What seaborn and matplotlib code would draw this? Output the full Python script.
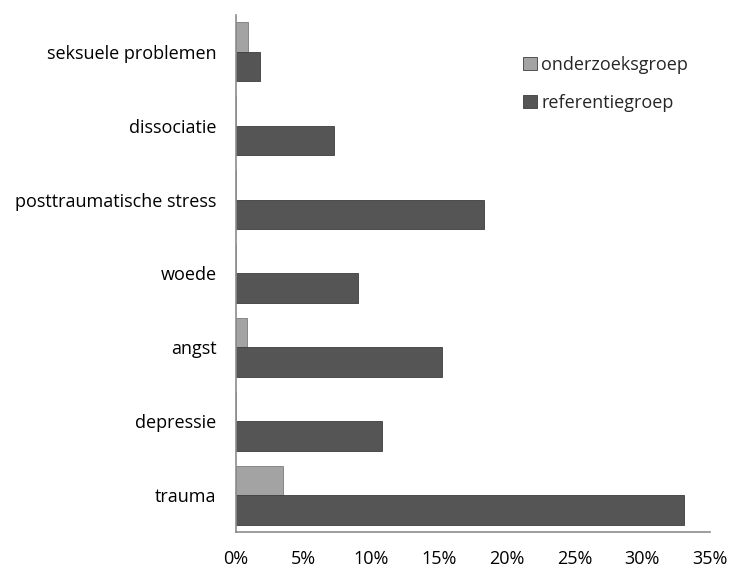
import matplotlib
matplotlib.use("Agg")
import matplotlib.pyplot as plt
import seaborn as sns
import pandas as pd
from matplotlib.ticker import FuncFormatter, MultipleLocator

categories = ["seksuele problemen", "dissociatie", "posttraumatische stress",
              "woede", "angst", "depressie", "trauma"]
onderzoeksgroep = [0.9, 0.0, 0.0, 0.0, 0.8, 0.0, 3.45]
referentiegroep = [1.8, 7.2, 18.3, 9.0, 15.2, 10.8, 33.1]
series = ["onderzoeksgroep", "referentiegroep"]
colors = ["#a3a3a3", "#555555"]

df = pd.DataFrame({
    "categorie": categories * 2,
    "groep": [series[0]] * len(categories) + [series[1]] * len(categories),
    "waarde": onderzoeksgroep + referentiegroep,
})

sns.set_style("white")
plt.rcParams["font.family"] = ["Open Sans", "DejaVu Sans"]

fig = plt.figure(figsize=(7.32, 5.69), dpi=100)
ax = fig.add_axes([0.3224, 0.065, 0.6476, 0.909])

sns.barplot(data=df, y="categorie", x="waarde", hue="groep", order=categories,
            hue_order=series, palette=colors, orient="h", width=0.8,
            edgecolor="#3d3d3d", linewidth=0.6, ax=ax, legend=True)

for patch in ax.containers[0]:
    patch.set_edgecolor("#7a7a7a")

ax.set_xlim(0, 35)
ax.xaxis.set_major_locator(MultipleLocator(5))
ax.xaxis.set_major_formatter(FuncFormatter(lambda v, p: f"{v:.0f}%"))
ax.set_xlabel("")
ax.set_ylabel("")
ax.tick_params(axis="both", length=0, labelsize=13, colors="black")
ax.tick_params(axis="x", pad=13)
ax.tick_params(axis="y", pad=14)

for s in ["top", "right"]:
    ax.spines[s].set_visible(False)
for s in ["left", "bottom"]:
    ax.spines[s].set_color("#8c8c8c")
    ax.spines[s].set_linewidth(1.2)

leg = ax.legend(loc="upper left", bbox_to_anchor=(0.572, 0.952), frameon=False,
                fontsize=13, handlelength=0.75, handleheight=0.75,
                handletextpad=0.25, labelspacing=1.1)

fig.savefig("out.png", dpi=100, facecolor="white")
